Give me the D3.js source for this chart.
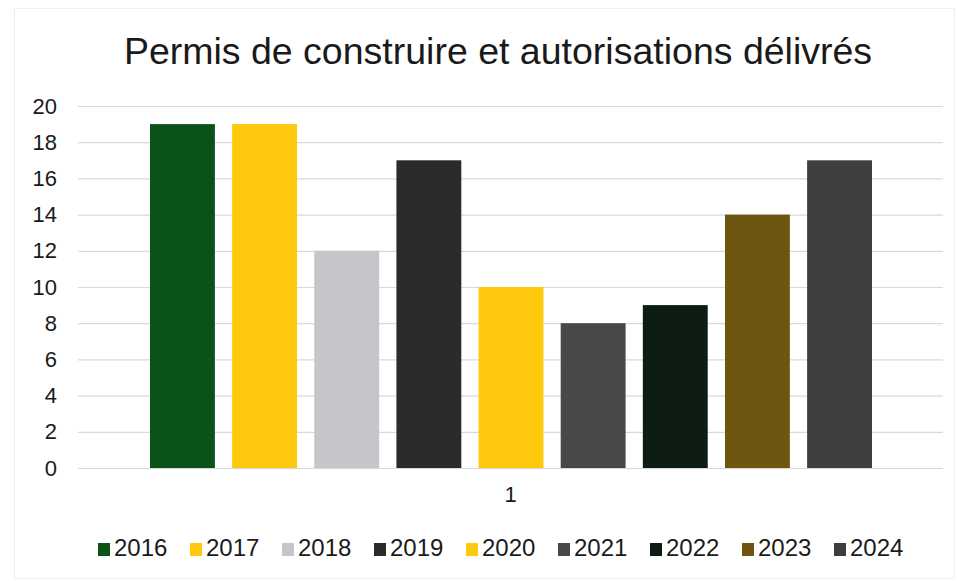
<!DOCTYPE html>
<html>
<head>
    <meta charset="utf-8">
    <script src="https://d3js.org/d3.v7.min.js"></script>
    <style>
        body { margin: 0; background: #fff; }
        text { font-family: "Liberation Sans", Arial, sans-serif; fill: #1a1a1a; }
    </style>
</head>
<body>
    <svg width="957" height="581"></svg>
    <script>
        // data
        var years = ["2016", "2017", "2018", "2019", "2020", "2021", "2022", "2023", "2024"];
        var permits = [19, 19, 12, 17, 10, 8, 9, 14, 17];
        var colors = ["#0b5219", "#fec80d", "#c4c6c9", "#2a2c2c", "#ffc90e", "#474848", "#0e1d12", "#6e5611", "#3d3e3e"];
        var yTicks = [0, 2, 4, 6, 8, 10, 12, 14, 16, 18, 20];
        var groups = ["1"];

        var svg = d3.select("svg");
        var plotLeft = 78, plotRight = 943, plotTop = 106, plotBottom = 468;

        // faint border of the chart area
        svg.append("rect")
            .attr("x", 14.5).attr("y", 8.5)
            .attr("width", 940).attr("height", 570)
            .attr("fill", "none")
            .attr("stroke", "#efefef");

        // title
        svg.append("text")
            .attr("x", 498)
            .attr("y", 64)
            .attr("text-anchor", "middle")
            .attr("font-size", "37.5px")
            .text("Permis de construire et autorisations délivrés");

        var y = d3.scaleLinear().domain([0, 20]).range([plotBottom, plotTop]);
        var x0 = d3.scaleBand().domain(groups).range([plotLeft, plotRight]);
        var x1 = d3.scaleBand().domain(years).range([150, 872]).paddingInner(0.21);

        // gridlines
        svg.append("g")
            .selectAll("line")
            .data(yTicks)
            .enter()
            .append("line")
            .attr("x1", plotLeft)
            .attr("x2", plotRight)
            .attr("y1", function (d) { return y(d) + 0.5; })
            .attr("y2", function (d) { return y(d) + 0.5; })
            .attr("stroke", "#d9d9d9")
            .attr("stroke-width", 1.2);

        // y axis labels
        var yAxis = svg.append("g")
            .attr("transform", "translate(" + plotLeft + ",0)")
            .call(d3.axisLeft(y).tickValues(yTicks).tickSize(0).tickPadding(21));
        yAxis.select(".domain").remove();
        yAxis.selectAll("text")
            .attr("font-size", "22px")
            .attr("font-family", "Liberation Sans, Arial, sans-serif")
            .attr("fill", "#1a1a1a");

        // bars
        svg.append("g")
            .selectAll("rect")
            .data(years)
            .enter()
            .append("rect")
            .attr("x", function (d) { return x1(d); })
            .attr("y", function (d, i) { return y(permits[i]); })
            .attr("width", x1.bandwidth())
            .attr("height", function (d, i) { return plotBottom - y(permits[i]); })
            .attr("fill", function (d, i) { return colors[i]; });

        // x axis category label
        var xAxis = svg.append("g")
            .attr("transform", "translate(0," + plotBottom + ")")
            .call(d3.axisBottom(x0).tickSize(0).tickPadding(18));
        xAxis.select(".domain").remove();
        xAxis.selectAll("text")
            .attr("font-size", "22px")
            .attr("font-family", "Liberation Sans, Arial, sans-serif")
            .attr("fill", "#1a1a1a");

        // legend
        var legend = svg.append("g")
            .selectAll("g")
            .data(years)
            .enter()
            .append("g")
            .attr("transform", function (d, i) { return "translate(" + (98 + i * 92) + ",556)"; });
        legend.append("rect")
            .attr("x", 0).attr("y", -13)
            .attr("width", 12).attr("height", 13)
            .attr("fill", function (d, i) { return colors[i]; });
        legend.append("text")
            .attr("x", 16)
            .attr("y", 0)
            .attr("font-size", "24px")
            .text(function (d) { return d; });
    </script>
</body>
</html>
